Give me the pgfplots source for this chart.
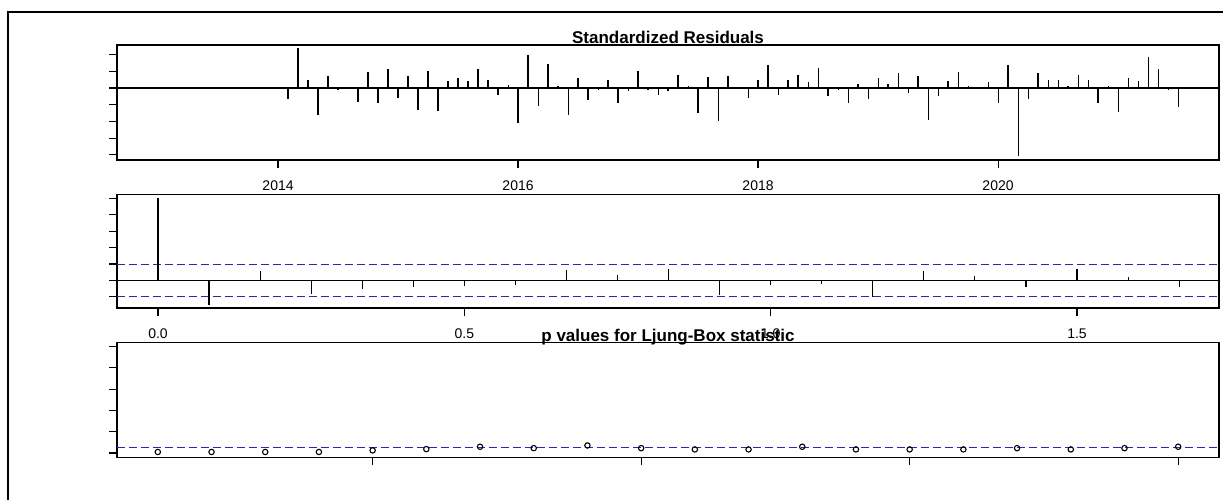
\documentclass[border=0pt]{standalone}
\usepackage{fontspec}
\setmainfont{Liberation Sans}
\usepackage{pgfplots}
\pgfplotsset{compat=1.18}
\definecolor{rblue}{RGB}{40,40,180}

\pgfplotstableread{
t r
2014.0833 -0.66
2014.1667 2.40
2014.25 0.50
2014.3333 -1.60
2014.4167 0.72
2014.5 -0.14
2014.5833 0.03
2014.6667 -0.82
2014.75 0.98
2014.8333 -0.90
2014.9167 1.14
2015.0 -0.60
2015.0833 0.72
2015.1667 -1.30
2015.25 1.04
2015.3333 -1.36
2015.4167 0.42
2015.5 0.58
2015.5833 0.42
2015.6667 1.14
2015.75 0.50
2015.8333 -0.42
2015.9167 0.18
2016.0 -2.08
2016.0833 2.00
2016.1667 -1.06
2016.25 1.46
2016.3333 0.12
2016.4167 -1.60
2016.5 0.58
2016.5833 -0.74
2016.6667 -0.12
2016.75 0.50
2016.8333 -0.90
2016.9167 -0.20
2017.0 1.04
2017.0833 -0.10
2017.1667 -0.42
2017.25 -0.20
2017.3333 0.80
2017.4167 0.10
2017.5 -1.52
2017.5833 0.64
2017.6667 -1.98
2017.75 0.72
2017.8333 0.02
2017.9167 -0.58
2018.0 0.50
2018.0833 1.36
2018.1667 -0.42
2018.25 0.50
2018.3333 0.80
2018.4167 0.34
2018.5 1.20
2018.5833 -0.50
2018.6667 -0.12
2018.75 -0.90
2018.8333 0.26
2018.9167 -0.66
2019.0 0.58
2019.0833 0.26
2019.1667 0.90
2019.25 -0.28
2019.3333 0.72
2019.4167 -1.92
2019.5 -0.50
2019.5833 0.42
2019.6667 0.98
2019.75 0.12
2019.8333 0.02
2019.9167 0.34
2020.0 -0.90
2020.0833 1.38
2020.1667 -4.10
2020.25 -0.66
2020.3333 0.90
2020.4167 0.50
2020.5 0.50
2020.5833 0.12
2020.6667 0.80
2020.75 0.50
2020.8333 -0.90
2020.9167 0.12
2021.0 -1.46
2021.0833 0.58
2021.1667 0.42
2021.25 1.86
2021.3333 1.14
2021.4167 -0.12
2021.5 -1.14
}\residtab

\pgfplotstableread{
lag acf
0 1.0
0.0833 -0.30
0.1667 0.114
0.25 -0.16
0.3333 -0.11
0.4167 -0.077
0.5 -0.065
0.5833 -0.06
0.6667 0.126
0.75 0.06
0.8333 0.142
0.9167 -0.175
1.0 -0.06
1.0833 -0.045
1.1667 -0.20
1.25 0.114
1.3333 0.05
1.4167 -0.077
1.5 0.142
1.5833 0.037
1.6667 -0.077
}\acftab

\pgfplotstableread{
lag p
1 0.010
2 0.010
3 0.010
4 0.010
5 0.025
6 0.037
7 0.059
8 0.046
9 0.071
10 0.046
11 0.034
12 0.034
13 0.059
14 0.034
15 0.034
16 0.034
17 0.046
18 0.034
19 0.046
20 0.059
}\ptab

\pgfplotsset{
  rpanel/.style={
    scale only axis,
    width=1102pt,
    axis line style={line width=1.3pt},
    every tick/.style={line width=1.1pt, black},
    tick align=outside,
    major tick length=8pt,
    xtick pos=lower, ytick pos=left,
    yticklabels={},
    tick label style={font=\fontsize{14}{16}\selectfont},
    xticklabel style={anchor=base, inner sep=0pt, yshift=-23pt},
    title style={font=\fontsize{17}{20}\selectfont\bfseries, at={(0.5,1)}, anchor=base, yshift=-5pt, inner sep=0pt},
    clip=false,
  },
  rdash/.style={rblue, line width=1.2pt, dash pattern=on 7.5pt off 4.5pt},
}

\begin{document}
\begin{tikzpicture}[x=1pt,y=1pt]
\useasboundingbox (0,0) rectangle (1223,500);
\draw[line width=2pt] (8,0) -- (8,488) -- (1223,488);

% Panel 1: standardized residuals
\begin{axis}[rpanel, at={(117pt,340pt)}, anchor=south west, height=115pt,
  xmin=2012.658, xmax=2021.842, ymin=-4.31, ymax=2.57,
  ytick={-4,-3,-2,-1,0,1,2},
  xtick={2014,2016,2018,2020}, xticklabels={2014,2016,2018,2020},
  title={Standardized Residuals}]
\addplot[black, line width=1.2pt] coordinates {(2012.658,0) (2021.842,0)};
\addplot[ycomb, black, line width=1.1pt] table[x=t, y=r] {\residtab};
\end{axis}

% Panel 2: ACF of residuals
\begin{axis}[rpanel, at={(117pt,192pt)}, anchor=south west, height=113.3pt,
  xmin=-0.0669, xmax=1.7317, ymin=-0.336, ymax=1.044,
  ytick={-0.2,0,0.2,0.4,0.6,0.8,1.0},
  xtick={0,0.5,1,1.5}, xticklabels={0.0,0.5,1.0,1.5}]
\addplot[black, line width=1.2pt] coordinates {(-0.0669,0) (1.7317,0)};
\addplot[rdash] coordinates {(-0.0669,0.193) (1.7317,0.193)};
\addplot[rdash] coordinates {(-0.0669,-0.193) (1.7317,-0.193)};
\addplot[ycomb, black, line width=1.1pt] table[x=lag, y=acf] {\acftab};
\end{axis}

% Panel 3: Ljung-Box p values
\begin{axis}[rpanel, at={(117pt,42.7pt)}, anchor=south west, height=115pt,
  xmin=0.24, xmax=20.76, ymin=-0.04, ymax=1.04,
  ytick={0,0.2,0.4,0.6,0.8,1.0},
  xtick={5,10,15,20}, xticklabels={},
  title={p values for Ljung-Box statistic}]
\addplot[rdash] coordinates {(0.24,0.05) (20.76,0.05)};
\addplot[only marks, mark=o, mark size=2.7pt, mark options={line width=1.1pt, black}] table[x=lag, y=p] {\ptab};
\end{axis}
\end{tikzpicture}
\end{document}
